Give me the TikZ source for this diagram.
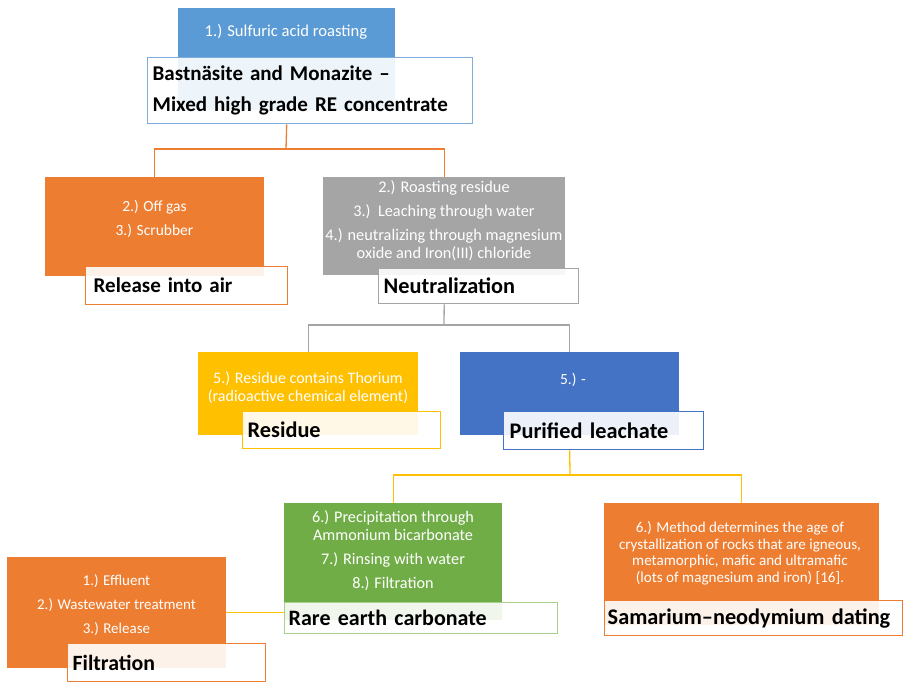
\documentclass[tikz,border=0pt]{standalone}
\usepackage{fontspec}
\setmainfont{Carlito}
\definecolor{oblue}{HTML}{5B9BD5}
\definecolor{oorange}{HTML}{ED7D31}
\definecolor{ogray}{HTML}{A5A5A5}
\definecolor{ogold}{HTML}{FFC000}
\definecolor{odblue}{HTML}{4472C4}
\definecolor{ogreen}{HTML}{70AD47}
\definecolor{lgreen}{HTML}{A9D18E}
\definecolor{lblue}{HTML}{7FAEDC}
\newcommand{\fsz}[2]{\fontsize{#1}{#2}\selectfont}
\begin{document}
\begin{tikzpicture}[x=1pt,y=-1pt,
  panel/.style={rectangle, anchor=north west, inner sep=0pt, draw=none},
  lab/.style={rectangle, anchor=north west, inner ysep=0pt, fill=white, fill opacity=0.9, text opacity=1,
     line width=1.4pt, font=\fsz{22.3}{31}\bfseries, align=left},
  wtxt/.style={text=white, font=\fsz{15.5}{18}, align=center, inner sep=0pt},
  conn/.style={line width=1.3pt}]
\useasboundingbox (0,0) rectangle (903,682);

% panels
\node[panel, fill=oblue, minimum width=217, minimum height=102] (p1) at (178,8) {};
\node[panel, fill=oorange, minimum width=219, minimum height=99] (p2) at (45,177) {};
\node[panel, fill=ogray, minimum width=242, minimum height=98] (p3) at (323,177) {};
\node[panel, fill=ogold, minimum width=220, minimum height=83] (p4) at (198,352) {};
\node[panel, fill=odblue, minimum width=219, minimum height=83] (p5) at (460,352) {};
\node[panel, fill=ogreen, minimum width=218, minimum height=117] (p6) at (284,503) {};
\node[panel, fill=oorange, minimum width=275, minimum height=122] (p7) at (604,503) {};
\node[panel, fill=oorange, minimum width=219, minimum height=111] (p8) at (7,557) {};

% texts inside panels
\node[wtxt, font=\fsz{16.6}{18}] (t1) at (286,32) {1.) Sulfuric acid roasting};
\node[wtxt] (t2) at (154.5,219) {2.) Off gas\\[6pt]3.) Scrubber};
\node[wtxt, font=\fsz{16.3}{18}] (t3) at (444,220.5) {2.) Roasting residue\\[6pt]3.)\ \ Leaching through water\\[6pt]4.) neutralizing through magnesium\\oxide and Iron(III) chloride};
\node[wtxt, font=\fsz{16}{18}] (t4) at (308,388) {5.) Residue contains Thorium\\(radioactive chemical element)};
\node[wtxt] (t5) at (573,380) {5.) -};
\node[wtxt, font=\fsz{16.2}{18}] (t6) at (393,551) {6.) Precipitation through\\Ammonium bicarbonate\\[6pt]7.) Rinsing with water\\[6pt]8.) Filtration};
\node[wtxt, font=\fsz{15.1}{16.5}] (t7) at (740,553.5) {6.) Method determines the age of\\crystallization of rocks that are igneous,\\metamorphic, mafic and ultramafic\\(lots of magnesium and iron) [16].};
\node[wtxt, font=\fsz{15}{18}] (t8) at (116.5,605) {1.) Effluent\\[6pt]2.) Wastewater treatment\\[6pt]3.) Release};

% labels
\node[lab, font=\fsz{21}{31}\bfseries, draw=lblue, minimum width=325, minimum height=66, inner xsep=5pt, text width=315] (l1) at (147,57) {\mbox{Bastnäsite and Monazite –}\\\mbox{Mixed high grade RE concentrate}};
\node[lab, font=\fsz{21}{31}\bfseries, draw=oorange, minimum width=202, minimum height=38, inner xsep=8pt, text width=186] (l2) at (85,266) {\mbox{Release into air}};
\node[lab, draw=ogray, minimum width=200, minimum height=35, inner xsep=5pt, text width=190] (l3) at (378,268) {\mbox{Neutralization}};
\node[lab, draw=ogold, minimum width=198, minimum height=37, inner xsep=5pt, text width=188] (l4) at (242,411) {\mbox{Residue}};
\node[lab, draw=odblue, minimum width=200, minimum height=38, inner xsep=6pt, text width=188] (l5) at (503,411) {\mbox{Purified leachate}};
\node[lab, font=\fsz{22}{31}\bfseries, draw=lgreen, minimum width=273, minimum height=31, inner xsep=4pt, text width=265] (l6) at (284,602) {\mbox{Rare earth carbonate}};
\node[lab, draw=oorange, minimum width=298, minimum height=35, inner xsep=3pt, text width=292] (l7) at (604,600) {\mbox{Samarium–neodymium dating}};
\node[lab, font=\fsz{21.8}{31}\bfseries, draw=oorange, minimum width=198, minimum height=38, inner xsep=5pt, text width=188] (l8) at (67,643) {\mbox{Filtration}};

% connectors
\coordinate (j1) at (286,149);
\coordinate (j2) at (444,325);
\coordinate (j3) at (570,475);
\draw[conn, oorange] (p1 |- l1.south) -- (j1);
\draw[conn, oorange] (p2.north) |- (j1) -| (p3.north);
\draw[conn, ogray] (p3 |- l3.south) -- (j2);
\draw[conn, ogray] (p4.north) |- (j2) -| (p5.north);
\draw[conn, ogold] (p5 |- l5.south) -- (j3);
\draw[conn, ogold] (p6.north) |- (j3) -| (p7.north);
\draw[conn, ogold] (p8.east) -- (p8.east -| l6.west);
\end{tikzpicture}
\end{document}
